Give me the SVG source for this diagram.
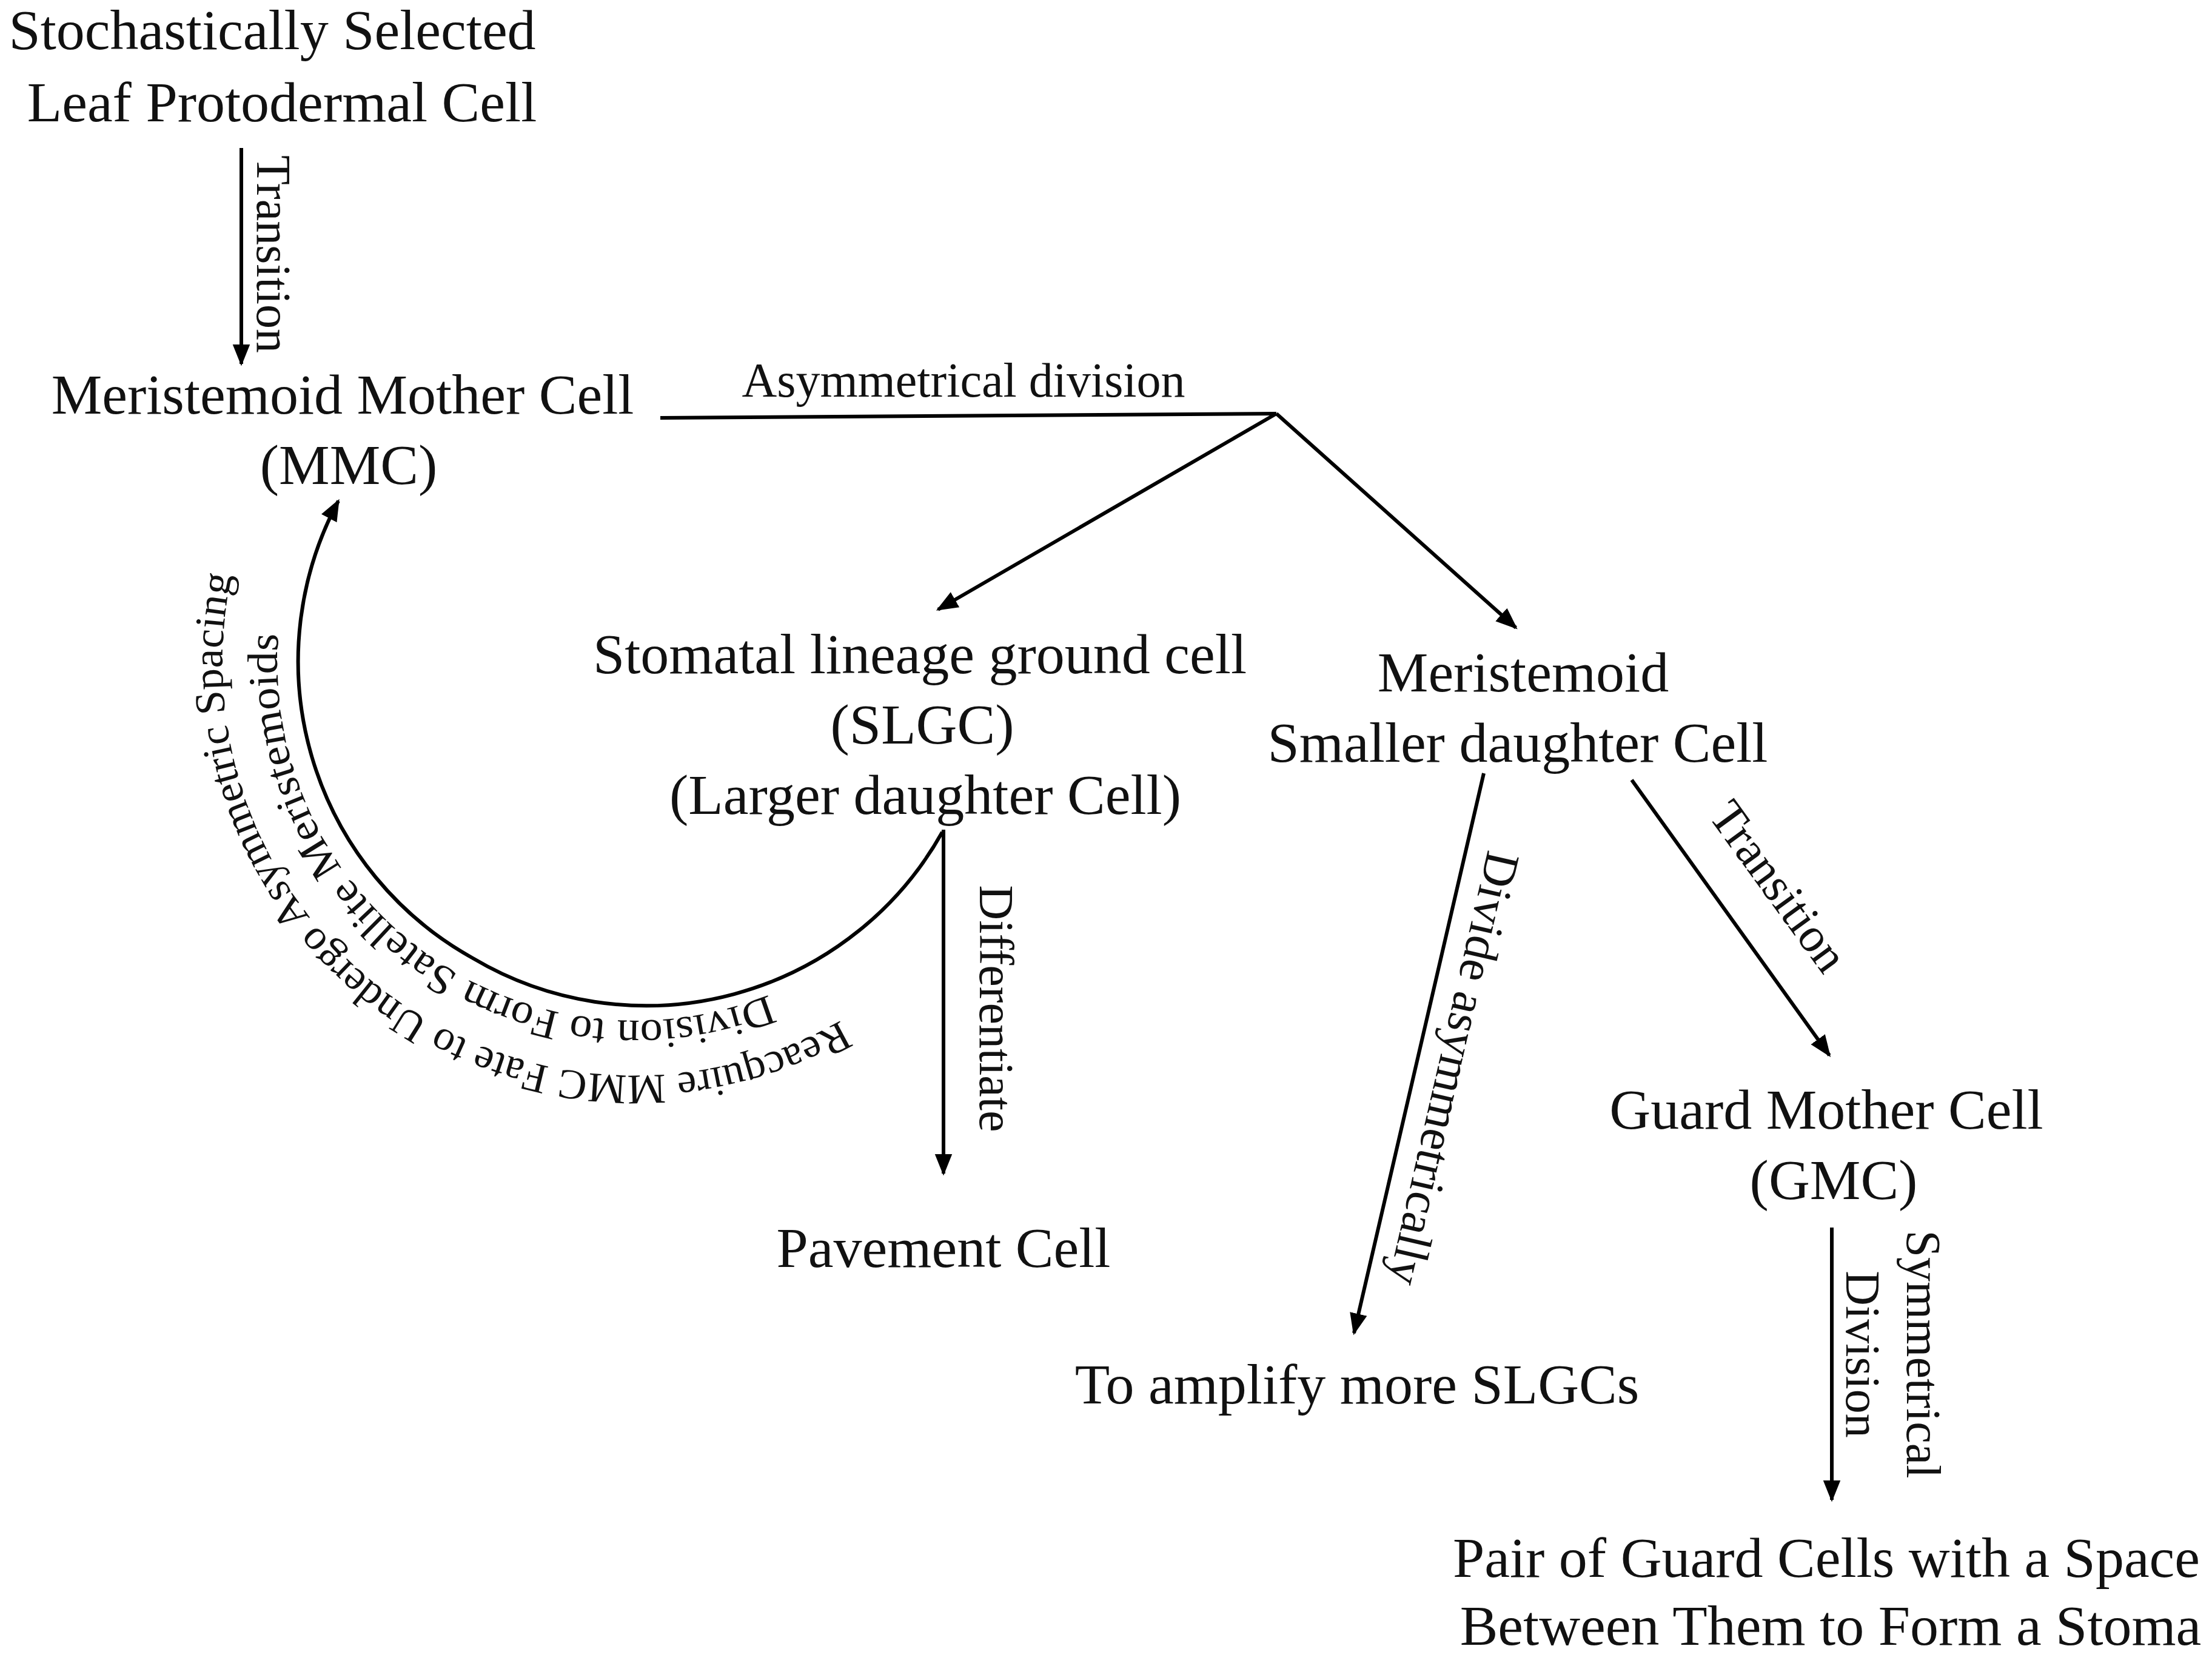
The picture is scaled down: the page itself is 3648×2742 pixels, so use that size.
<svg xmlns="http://www.w3.org/2000/svg" width="3648" height="2742" viewBox="0 0 3648 2742">
<style>
.t{font-family:"Liberation Serif","Times New Roman",serif;font-size:94px;fill:#111;text-anchor:middle}
.l{font-family:"Liberation Serif","Times New Roman",serif;font-size:80px;fill:#111;text-anchor:middle}
.k{font-family:"Liberation Serif","Times New Roman",serif;font-size:70px;fill:#111}
.c{fill:none;stroke:#000;stroke-width:6}
</style>
<defs>
<marker id="a" viewBox="0 0 10 10" refX="9" refY="5" markerWidth="6" markerHeight="6" markerUnits="strokeWidth" orient="auto"><path d="M0,1 L10,5 L0,9 Z" fill="#000"/></marker>
<path id="p1" d="M1387 1682 A680 680 0 0 1 408 860"/>
<path id="p2" d="M1268 1640 A590 590 0 0 1 493 891"/>
</defs>
<rect width="3648" height="2742" fill="#fff"/>
<g id="n1"><text class="t" x="449" y="81">Stochastically Selected</text><text class="t" x="465" y="200">Leaf Protodermal Cell</text></g>
<g id="n2"><text class="t" x="565" y="682">Meristemoid Mother Cell</text><text class="t" x="575" y="798">(MMC)</text></g>
<g id="n3"><text class="t" x="1517" y="1110">Stomatal lineage ground cell</text><text class="t" x="1521" y="1226">(SLGC)</text><text class="t" x="1526" y="1342">(Larger daughter Cell)</text></g>
<g id="n4"><text class="t" x="2512" y="1140">Meristemoid</text><text class="t" x="2503" y="1256">Smaller daughter Cell</text></g>
<g id="n5"><text class="t" x="1556" y="2089">Pavement Cell</text></g>
<g id="n6"><text class="t" x="2238" y="2314">To amplify more SLGCs</text></g>
<g id="n7"><text class="t" x="3012" y="1861">Guard Mother Cell</text><text class="t" x="3024" y="1977">(GMC)</text></g>
<g id="n8"><text class="t" x="3012" y="2600">Pair of Guard Cells with a Space</text><text class="t" x="3019" y="2712">Between Them to Form a Stoma</text></g>
<g id="connectors">
<line class="c" x1="398" y1="244" x2="398" y2="600" marker-end="url(#a)"/>
<text class="l" transform="translate(424 419) rotate(90)">Transition</text>
<polyline class="c" points="1089,689 2105,682"/>
<text class="l" x="1589" y="654">Asymmetrical division</text>
<line class="c" x1="2105" y1="682" x2="1547" y2="1005" marker-end="url(#a)"/>
<line class="c" x1="2105" y1="682" x2="2500" y2="1035" marker-end="url(#a)"/>
<line class="c" x1="1556" y1="1368" x2="1556" y2="1935" marker-end="url(#a)"/>
<text class="l" transform="translate(1616 1663) rotate(90)">Differentiate</text>
<line class="c" x1="2447" y1="1275" x2="2233" y2="2198" marker-end="url(#a)"/>
<text class="l" transform="translate(2372 1756) rotate(103)">Divide asymmetrically</text>
<line class="c" x1="2691" y1="1286" x2="3017" y2="1740" marker-end="url(#a)"/>
<text class="l" transform="translate(2912 1477) rotate(54)">Transition</text>
<line class="c" x1="3021" y1="2024" x2="3021" y2="2473" marker-end="url(#a)"/>
<text class="l" transform="translate(3145 2233) rotate(90)">Symmetrical</text>
<text class="l" transform="translate(3045 2233) rotate(90)">Division</text>
<path class="c" d="M1554 1372 A560 560 0 0 1 780 1580 A560 560 0 0 1 558 826" marker-end="url(#a)"/>
<text class="k"><textPath href="#p1" textLength="1570" lengthAdjust="spacingAndGlyphs">Reacquire MMC Fate to Undergo Asymmetric Spacing</textPath></text>
<text class="k"><textPath href="#p2" textLength="1200" lengthAdjust="spacingAndGlyphs">Division to Form Satellite Meristemoids</textPath></text>
</g>
</svg>
